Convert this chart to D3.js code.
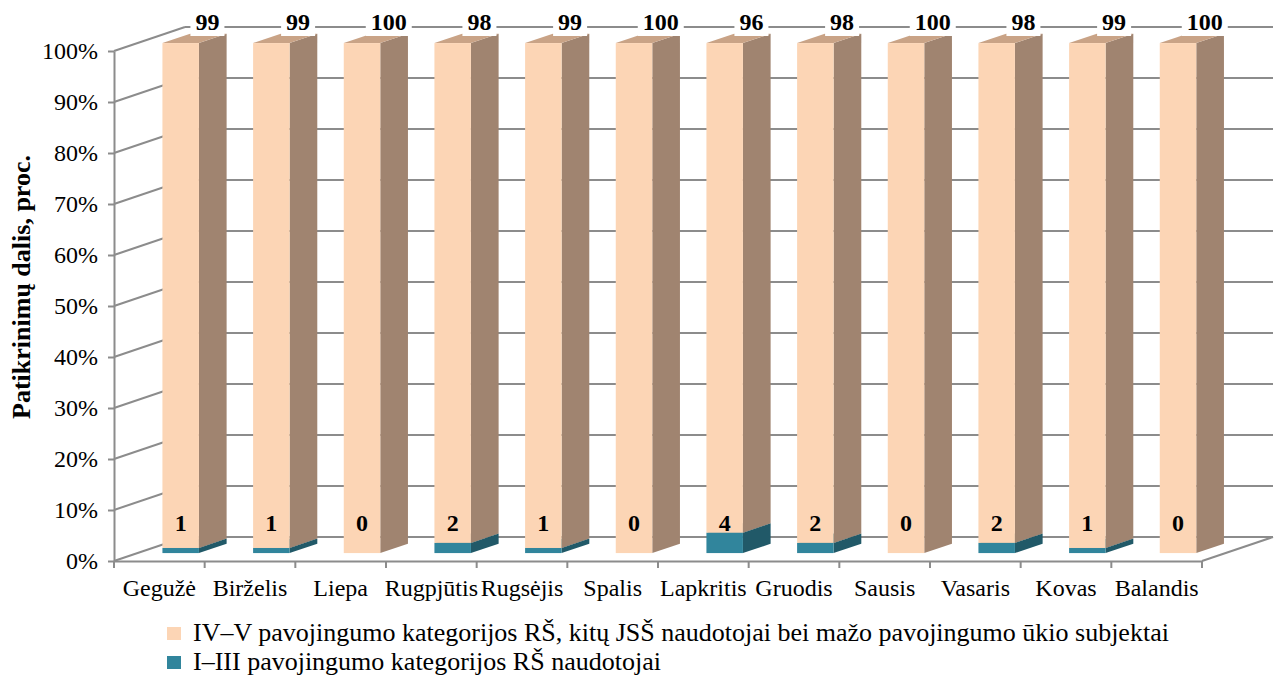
<!DOCTYPE html>
<html>
<head>
<meta charset="utf-8">
<script src="https://cdn.jsdelivr.net/npm/d3@7"></script>
<style>
  body { margin: 0; background: #fff; }
</style>
</head>
<body>
<svg id="chart" width="1274" height="680" font-family="Liberation Serif"></svg>
<script>
const months = ["Gegužė", "Birželis", "Liepa", "Rugpjūtis", "Rugsėjis", "Spalis",
  "Lapkritis", "Gruodis", "Sausis", "Vasaris", "Kovas", "Balandis"];
const lowShare = [1, 1, 0, 2, 1, 0, 4, 2, 0, 2, 1, 0];        // I–III
const highShare = [99, 99, 100, 98, 99, 100, 96, 98, 100, 98, 99, 100]; // IV–V
const yTicks = d3.range(0, 101, 10);
const seriesNames = [
  "IV–V pavojingumo kategorijos RŠ, kitų JSŠ naudotojai bei mažo pavojingumo ūkio subjektai",
  "I–III pavojingumo kategorijos RŠ naudotojai"
];

const FONT = "Liberation Serif";
const svg = d3.select("#chart");
const gridColor = "#8c8c8c";

const x = d3.scaleBand().domain(months).range([114, 1202]);
const y = d3.scaleLinear().domain([0, 100]).range([561, 51]);

// oblique depth of the floor / walls
const depth = [71, -24];
const f0 = 0.33, f1 = 0.72;   // bar front and back depth
const inset = 25, barW = 36.5;

// back wall + left wall gridlines
const walls = svg.append("g");
yTicks.forEach(t => {
  walls.append("line")
    .attr("x1", 114 + depth[0]).attr("x2", 1273)
    .attr("y1", y(t) + depth[1]).attr("y2", y(t) + depth[1])
    .attr("stroke", gridColor).attr("stroke-width", 2);
  walls.append("line")
    .attr("x1", 114).attr("x2", 114 + depth[0])
    .attr("y1", y(t)).attr("y2", y(t) + depth[1])
    .attr("stroke", gridColor).attr("stroke-width", 2);
});
// floor right edge
walls.append("line")
  .attr("x1", x.range()[1]).attr("y1", y(0))
  .attr("x2", x.range()[1] + depth[0]).attr("y2", y(0) + depth[1])
  .attr("stroke", gridColor).attr("stroke-width", 2);

// y axis
const yAxis = svg.append("g")
  .attr("transform", "translate(114,0)")
  .call(d3.axisLeft(y).tickValues(yTicks).tickFormat(d => d + "%").tickSize(6).tickSizeOuter(0).tickPadding(10))
  .attr("font-family", FONT).attr("font-size", 24);
yAxis.selectAll("path, line").attr("stroke", gridColor).attr("stroke-width", 2);
yAxis.selectAll("text").attr("fill", "#000");

// x axis
const xAxis = svg.append("g")
  .attr("transform", "translate(0," + y(0) + ")")
  .call(d3.axisBottom(x).tickSize(0).tickPadding(18))
  .attr("font-family", FONT).attr("font-size", 24);
xAxis.select("path").attr("stroke", gridColor).attr("stroke-width", 2);
xAxis.selectAll("text").attr("fill", "#000");
xAxis.selectAll(".bound")
  .data(months.map(m => x(m)).concat([x.range()[1]]))
  .enter().append("line")
  .attr("x1", d => d).attr("x2", d => d)
  .attr("y1", 0).attr("y2", 7)
  .attr("stroke", gridColor).attr("stroke-width", 2);

// 3D bars
const colors = [
  { front: "#31859c", side: "#215968", top: "#2a7186" },  // I–III
  { front: "#fcd5b5", side: "#a08470", top: "#c9a386" }   // IV–V
];
const ddx = depth[0] * (f1 - f0), ddy = depth[1] * (f1 - f0);
const bars = svg.append("g");

months.forEach((m, i) => {
  const xl = x(m) + depth[0] * f0 + inset;
  const xr = xl + barW;
  const segs = [[0, lowShare[i], 0], [lowShare[i], lowShare[i] + highShare[i], 1]];
  segs.forEach(([v0, v1, s]) => {
    if (v1 <= v0) return;
    const yb = y(v0) + depth[1] * f0;
    const yt = y(v1) + depth[1] * f0;
    const c = colors[s];
    bars.append("path")
      .attr("d", `M${xr},${yb}L${xr + ddx},${yb + ddy}L${xr + ddx},${yt + ddy}L${xr},${yt}Z`)
      .attr("fill", c.side);
    bars.append("path")
      .attr("d", `M${xl},${yt}L${xr},${yt}L${xr + ddx},${yt + ddy}L${xl + ddx},${yt + ddy}Z`)
      .attr("fill", c.top);
    bars.append("rect")
      .attr("x", xl).attr("y", yt).attr("width", barW).attr("height", yb - yt)
      .attr("fill", c.front);
  });

  // label of the small series
  bars.append("text")
    .attr("x", xl + barW / 2).attr("y", y(0) + depth[1] * f0 - 22)
    .attr("text-anchor", "middle").attr("font-size", 24).attr("font-weight", "bold")
    .attr("font-family", FONT)
    .text(lowShare[i]);

  // label of the large series, with white box
  const lx = xl + 45, ly = y(100) - 21;
  const w = String(highShare[i]).length * 12 + 10;
  bars.append("rect")
    .attr("x", lx - w / 2).attr("y", ly - 22).attr("width", w).attr("height", 28)
    .attr("fill", "#fff");
  bars.append("text")
    .attr("x", lx).attr("y", ly)
    .attr("text-anchor", "middle").attr("font-size", 24).attr("font-weight", "bold")
    .attr("font-family", FONT)
    .text(highShare[i]);
});

// y axis title
svg.append("text")
  .attr("transform", "translate(30,287) rotate(-90)")
  .attr("text-anchor", "middle").attr("font-size", 26).attr("font-weight", "bold")
  .attr("font-family", FONT)
  .text("Patikrinimų dalis, proc.");

// legend
const legend = svg.append("g");
[1, 0].forEach((s, k) => {
  legend.append("rect")
    .attr("x", 167).attr("y", 627 + k * 29).attr("width", 14).attr("height", 13)
    .attr("fill", colors[s].front);
  legend.append("text")
    .attr("x", 193).attr("y", 641 + k * 29).attr("font-size", 26)
    .attr("font-family", FONT)
    .text(seriesNames[k]);
});
</script>
</body>
</html>
